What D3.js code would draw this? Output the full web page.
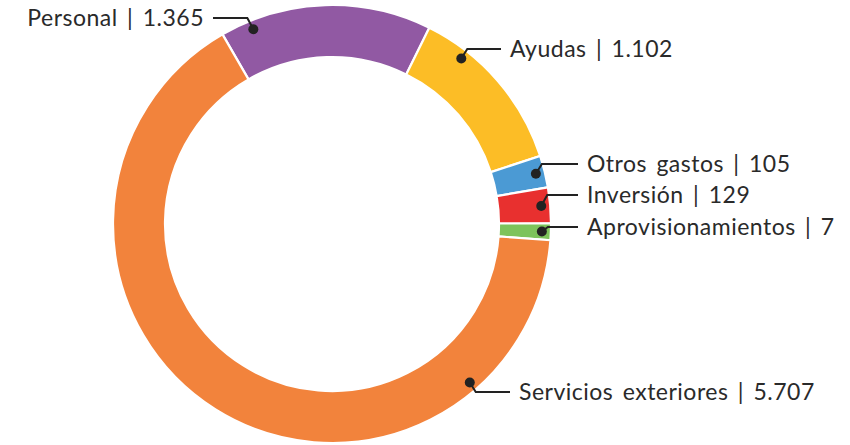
<!DOCTYPE html>
<html>
<head>
<meta charset="utf-8">
<script src="https://cdn.jsdelivr.net/npm/d3@7"></script>
<style>
    body { margin: 0; background: #fff; }
    text { font-family: Lato, "Open Sans", sans-serif; }
</style>
</head>
<body>
<div id="chart"></div>
<script>
// data
const categories = ["Personal", "Ayudas", "Otros gastos", "Inversión", "Aprovisionamientos", "Servicios exteriores"];
const values = [1365, 1102, 105, 129, 7, 5707];
const colors = ["#9159a3", "#fcbd26", "#4b9ad4", "#e8302f", "#7dc35b", "#f2833c"];

// small slices get a fixed visual boost so they stay visible (the labels keep the real value)
const smallShare = 0.02;
const smallBoost = 100;

// label layout: leader angle on the ring (deg, null = slice middle), leader line y, line end x
const labelLayout = [
    { angle: -22, lineY: 18, endX: 213, side: -1 },
    { angle: 38, lineY: 49, endX: 501, side: 1 },
    { angle: null, lineY: 164, endX: 578, side: 1 },
    { angle: null, lineY: 195, endX: 578, side: 1 },
    { angle: null, lineY: 227, endX: 578, side: 1 },
    { angle: 139, lineY: 392, endX: 510, side: 1 }
];

const width = 850, height = 445;
const cx = 332, cy = 224;
const outerR = 219, innerR = 167, dotR = 210;

const total = d3.sum(values);
const data = categories.map((name, i) => ({
    name,
    value: values[i],
    shown: values[i] < total * smallShare ? values[i] + smallBoost : values[i],
    color: colors[i],
    layout: labelLayout[i]
}));

const locale = d3.formatLocale({ decimal: ",", thousands: ".", grouping: [3], currency: ["", " €"] });
const fmt = locale.format(",d");

const start = -30 * Math.PI / 180;
const pie = d3.pie()
    .sort(null)
    .value(d => d.shown)
    .startAngle(start)
    .endAngle(start + 2 * Math.PI);

const arc = d3.arc().innerRadius(innerR).outerRadius(outerR);
const dotArc = d3.arc().innerRadius(dotR).outerRadius(dotR);

const svg = d3.select("#chart")
    .append("svg")
    .attr("width", width)
    .attr("height", height);

const g = svg.append("g").attr("transform", `translate(${cx},${cy})`);

const arcs = pie(data);

g.selectAll("path.slice")
    .data(arcs)
    .join("path")
    .attr("class", "slice")
    .attr("d", arc)
    .attr("fill", d => d.data.color)
    .attr("stroke", "#fff")
    .attr("stroke-width", 2.2);

// leaders + labels
const labels = g.selectAll("g.label")
    .data(arcs)
    .join("g")
    .attr("class", "label");

function dotPos(d) {
    const L = d.data.layout;
    if (L.angle === null) {
        return dotArc.centroid(d);
    }
    const a = L.angle * Math.PI / 180;
    return dotArc.centroid({ startAngle: a, endAngle: a });
}

labels.append("path")
    .attr("fill", "none")
    .attr("stroke", "#222")
    .attr("stroke-width", 2)
    .attr("d", d => {
        const L = d.data.layout;
        const [x, y] = dotPos(d);
        const ly = L.lineY - cy;
        const ex = L.endX - cx;
        const elbowX = Math.abs(ly - y) < 2 ? x : x + 6 * L.side;
        return `M${x},${y}L${elbowX},${ly}L${ex},${ly}`;
    });

labels.append("circle")
    .attr("r", 5)
    .attr("fill", "#222")
    .attr("cx", d => dotPos(d)[0])
    .attr("cy", d => dotPos(d)[1]);

labels.append("text")
    .attr("x", d => d.data.layout.endX - cx + 9 * d.data.layout.side)
    .attr("y", d => d.data.layout.lineY - cy + 8)
    .attr("text-anchor", d => d.data.layout.side < 0 ? "end" : "start")
    .attr("fill", "#2a2a2a")
    .style("font-size", "23px")
    .style("letter-spacing", "0.5px")
    .style("word-spacing", "3px")
    .text(d => `${d.data.name} | ${fmt(d.data.value)}`);
</script>
</body>
</html>
